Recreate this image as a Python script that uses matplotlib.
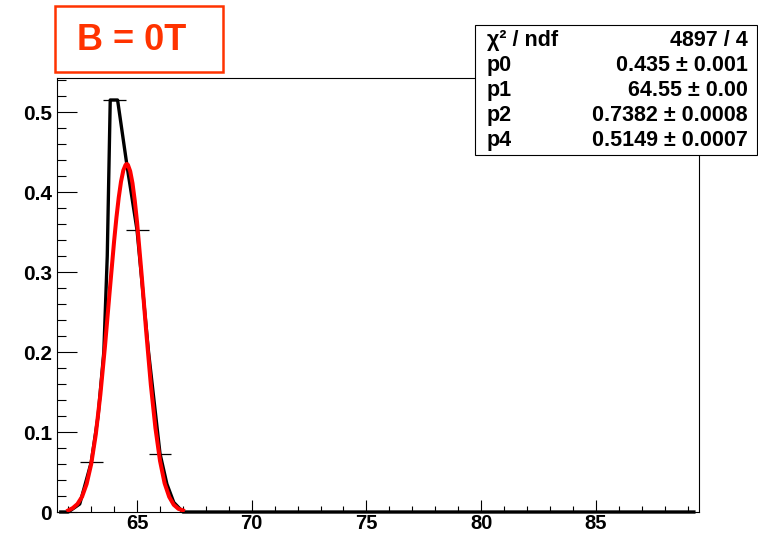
import matplotlib
matplotlib.use("Agg")
import matplotlib.pyplot as plt
from matplotlib.patches import Rectangle

plt.rcParams['font.family'] = ['Liberation Sans', 'DejaVu Sans']
plt.rcParams['font.weight'] = 'bold'

# histogram bins (centre, content) with horizontal error bars
bin_x = [63, 64, 65, 66]
bin_y = [0.062, 0.515, 0.352, 0.073]

# black histogram curve as drawn
hist_x = [61.6, 62.0, 62.5, 63.0, 63.3, 63.55, 63.7, 63.83, 64.15, 64.57, 65.0, 65.5,
          66.0, 66.3, 66.6, 67.0, 89.35]
hist_y = [0.0, 0.0, 0.01, 0.062, 0.12, 0.2, 0.32, 0.515, 0.515, 0.431, 0.352, 0.2,
          0.073, 0.035, 0.012, 0.0, 0.0]

# red fit curve
fit_x = [62.0, 62.2, 62.4, 62.6, 62.8, 63.0, 63.2, 63.4, 63.6, 63.8, 64.0, 64.1, 64.2,
         64.3, 64.4, 64.5, 64.55, 64.6, 64.7, 64.8, 64.9, 65.0, 65.2, 65.4, 65.6, 65.8,
         66.0, 66.2, 66.4, 66.6, 66.8, 67.0]
fit_y = [0.002, 0.005, 0.010, 0.019, 0.035, 0.060, 0.097, 0.147, 0.207, 0.274, 0.339,
         0.368, 0.393, 0.413, 0.427, 0.434, 0.435, 0.434, 0.426, 0.411, 0.389, 0.362,
         0.296, 0.225, 0.159, 0.105, 0.064, 0.036, 0.019, 0.009, 0.004, 0.002]

stat_names = ['χ² / ndf', 'p0', 'p1', 'p2', 'p4']
stat_values = ['4897 / 4', '0.435 ± 0.001', '64.55 ± 0.00', '0.7382 ± 0.0008', '0.5149 ± 0.0007']

W, H = 758, 536
fig = plt.figure(figsize=(W / 100, H / 100), dpi=100)
ax = fig.add_axes([56.8 / W, (H - 512) / H, (699 - 56.8) / W, (512 - 78) / H])

ax.plot(hist_x, hist_y, color='black', lw=2.4, clip_on=False, solid_capstyle='butt',
        solid_joinstyle='round', zorder=3)
ax.errorbar(bin_x, bin_y, xerr=0.5, fmt='none', ecolor='black', elinewidth=0.9, capsize=0, zorder=4)
ax.plot(fit_x, fit_y, color='#ff0000', lw=2.9, solid_joinstyle='round', zorder=5)

ax.set_xlim(61.5, 89.5)
ax.set_ylim(0, 0.5425)
ax.set_xticks([65, 70, 75, 80, 85])
ax.set_xticks(list(range(62, 90)), minor=True)
ax.set_yticks([0, 0.1, 0.2, 0.3, 0.4, 0.5])
ax.set_yticklabels(['0', '0.1', '0.2', '0.3', '0.4', '0.5'])
ax.set_yticks([i * 0.02 for i in range(28)], minor=True)

ax.tick_params(axis='both', which='both', direction='in', width=0.8)
ax.tick_params(axis='x', which='major', length=8.6, pad=1.5, labelsize=14.5)
ax.tick_params(axis='x', which='minor', length=4.3)
ax.tick_params(axis='y', which='major', length=14.4, pad=3.5, labelsize=15)
ax.tick_params(axis='y', which='minor', length=6.5)
for s in ax.spines.values():
    s.set_linewidth(0.8)

# title box
fig.add_artist(Rectangle((55 / W, 1 - 72 / H), (223 - 55) / W, (72 - 6) / H,
                         transform=fig.transFigure, facecolor='white',
                         edgecolor='#ff3300', lw=1.8))
fig.text(77 / W, 1 - 40 / H, 'B = 0T', color='#ff3300', fontsize=26,
         fontweight='bold', ha='left', va='center')

# stats box
fig.add_artist(Rectangle((475 / W, 1 - 155 / H), (757 - 475) / W, (155 - 25) / H,
                         transform=fig.transFigure, facecolor='white',
                         edgecolor='black', lw=0.8, zorder=5))
for i, (n, v) in enumerate(zip(stat_names, stat_values)):
    yy = 1 - (40.5 + 25 * i) / H
    fig.text(487 / W, yy, n, fontsize=15.5, ha='left', va='center', zorder=6)
    fig.text(748 / W, yy, v, fontsize=15.5, ha='right', va='center', zorder=6)

fig.savefig('out.png', dpi=100)
